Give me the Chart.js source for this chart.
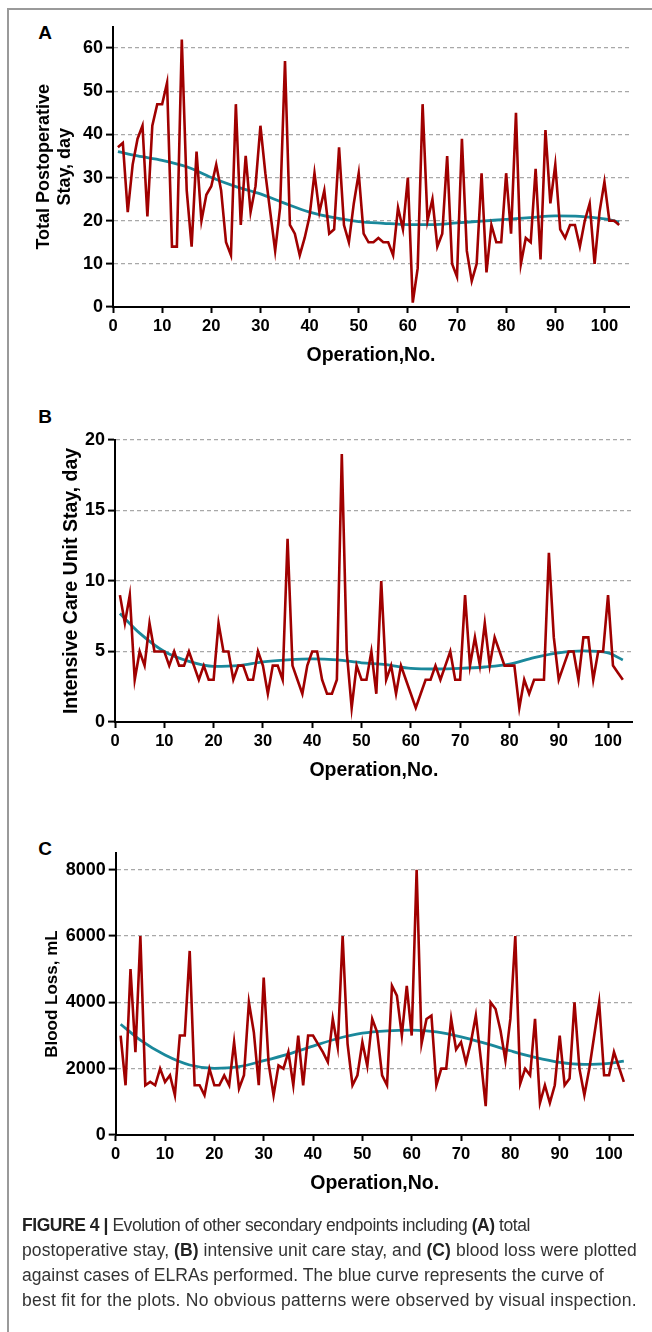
<!DOCTYPE html>
<html>
<head>
<meta charset="utf-8">
<script src="https://cdn.jsdelivr.net/npm/chart.js@4.4.0/dist/chart.umd.min.js"></script>
<style>
  body { margin: 0; width: 652px; height: 1332px; position: relative; background: #fff; overflow: hidden; }
  .frame { position: absolute; left: 7px; top: 8px; right: -4px; bottom: -4px; border-left: 2px solid #9a9a9a; border-top: 2px solid #9a9a9a; }
  canvas { position: absolute; left: 0; }
  .letter { position: absolute; font: bold 19px "Liberation Sans", Arial, sans-serif; color: #000; line-height: 20px; transform: translate(-50%, -50%); }
  .caption { position: absolute; left: 22px; top: 1213px; font: 17.5px "Liberation Sans", Arial, sans-serif; line-height: 25px; color: #333; white-space: nowrap; }
  .caption div { height: 25px; }
  .caption b { color: #222; }
</style>
</head>
<body>
<div class="frame"></div>
<div class="letter" style="left:45px; top:33px">A</div>
<div class="letter" style="left:45px; top:417px">B</div>
<div class="letter" style="left:45px; top:849px">C</div>
<canvas id="chartA" width="652" height="400" style="top:0"></canvas>
<canvas id="chartB" width="652" height="400" style="top:400px"></canvas>
<canvas id="chartC" width="652" height="420" style="top:800px"></canvas>
<div class="caption">
  <div style="letter-spacing:-0.45px"><b>FIGURE 4 |</b> Evolution of other secondary endpoints including <b>(A)</b> total</div>
  <div style="letter-spacing:0.08px">postoperative stay, <b>(B)</b> intensive unit care stay, and <b>(C)</b> blood loss were plotted</div>
  <div style="letter-spacing:0.03px">against cases of ELRAs performed. The blue curve represents the curve of</div>
  <div style="letter-spacing:0.26px">best fit for the plots. No obvious patterns were observed by visual inspection.</div>
</div>

<script>
// operation numbers 1..103
const operations = Array.from({length: 103}, (_, i) => i + 1);

// A: total postoperative stay (days)
const postopStay = [
  37, 38, 22, 33, 39, 42, 21, 42, 47, 47,
  52, 14, 14, 62, 27, 14, 36, 20, 26, 28,
  33, 27, 15, 12, 47, 19, 35, 22, 28, 42,
  31, 22, 13, 23, 57, 19, 17, 12, 16, 21,
  31, 22, 27, 17, 18, 37, 19, 15, 24, 31,
  17, 15, 15, 16, 15, 15, 12, 23, 18, 30,
  1, 9, 47, 20, 25, 14, 17, 35, 10, 7,
  39, 13, 6, 10, 31, 8, 19, 15, 15, 31,
  17, 45, 10, 16, 15, 32, 11, 41, 24, 33,
  18, 16, 19, 19, 14, 20, 24, 10, 22, 29,
  20, 20, 19
];

// B: intensive care unit stay (days)
const icuStay = [
  9, 7, 9, 3, 5, 4, 7, 5, 5, 5,
  4, 5, 4, 4, 5, 4, 3, 4, 3, 3,
  7, 5, 5, 3, 4, 4, 3, 3, 5, 4,
  2, 4, 4, 3, 13, 4, 3, 2, 4, 5,
  5, 3, 2, 2, 3, 19, 5, 1, 4, 3,
  3, 5, 2, 10, 3, 4, 2, 4, 3, 2,
  1, 2, 3, 3, 4, 3, 4, 5, 3, 3,
  9, 4, 6, 4, 7, 4, 6, 5, 4, 4,
  4, 1, 3, 2, 3, 3, 3, 12, 6, 3,
  4, 5, 5, 3, 6, 6, 3, 5, 5, 9,
  4, 3.5, 3
];

// C: blood loss (mL)
const bloodLoss = [
  3000, 1500, 5000, 2500, 6000, 1500, 1600, 1500, 2000, 1600,
  1800, 1200, 3000, 3000, 5550, 1500, 1500, 1200, 2000, 1500,
  1500, 1800, 1500, 2800, 1400, 1800, 4000, 3100, 1500, 4750,
  2150, 1200, 2100, 2000, 2500, 1500, 3000, 1500, 3000, 3000,
  2750, 2500, 2200, 3500, 2650, 6000, 2750, 1500, 1800, 2800,
  2080, 3500, 3100, 1800, 1500, 4500, 4200, 3000, 4500, 3000,
  8000, 2760, 3500, 3600, 1500, 2000, 2000, 3500, 2580, 2800,
  2180, 2800, 3600, 2300, 870, 4000, 3800, 3150, 2250, 3500,
  6000, 1550, 2000, 1800, 3500, 970, 1500, 970, 1500, 3000,
  1500, 1700, 4000, 2000, 1200, 2000, 3000, 4000, 1800, 1800,
  2500, 2050, 1600
];

// best-fit curves, read at a few operation numbers
const fitOps = [1, 5, 10, 15, 20, 25, 30, 35, 40, 45, 50, 55, 60, 65, 70, 75, 80, 85, 90, 95, 100, 103];
const postopFit = [36, 35, 34, 32.5, 30, 27.9, 26.2, 24, 22, 20.7, 19.8, 19.4, 19.1, 19.1, 19.5, 19.9, 20.3, 20.7, 21.1, 21, 20.4, 19.7];
const icuFit = [7.7, 6.3, 5.0, 4.3, 3.95, 4.0, 4.26, 4.4, 4.47, 4.4, 4.2, 4.07, 3.8, 3.76, 3.8, 3.9, 4.1, 4.57, 4.9, 5.04, 4.9, 4.4];
const bloodFit = [3340, 2860, 2410, 2110, 2010, 2060, 2240, 2440, 2680, 2910, 3070, 3140, 3160, 3110, 2960, 2760, 2540, 2340, 2190, 2130, 2160, 2230];

const xTicks = [0, 10, 20, 30, 40, 50, 60, 70, 80, 90, 100];

const FONT = '"Liberation Sans", Arial, sans-serif';
const RED = '#a00000';
const TEAL = '#1a889b';

function toPoints(xs, ys) {
  return xs.map((x, i) => ({x: x, y: ys[i]}));
}

function makePanel(id, p) {
  const ctx = document.getElementById(id).getContext('2d');
  return new Chart(ctx, {
    type: 'line',
    data: {
      datasets: [{
        data: toPoints(operations, p.values),
        borderColor: RED,
        borderWidth: 2.6,
        pointRadius: 0,
        tension: 0,
        borderJoinStyle: 'miter'
      }, {
        data: toPoints(fitOps, p.fit),
        borderColor: TEAL,
        borderWidth: 2.8,
        pointRadius: 0,
        cubicInterpolationMode: 'monotone'
      }]
    },
    options: {
      responsive: false,
      animation: false,
      devicePixelRatio: 1,
      layout: { padding: p.padding },
      plugins: { legend: { display: false }, tooltip: { enabled: false } },
      scales: {
        x: {
          type: 'linear',
          min: 0, max: 105,
          afterBuildTicks: s => { s.ticks = xTicks.map(v => ({value: v})); },
          afterFit: s => { s.height = 70; },
          ticks: { color: '#000', font: { family: FONT, size: 16.5, weight: 'bold' }, padding: 4, maxRotation: 0, autoSkip: false },
          grid: { drawOnChartArea: false, drawTicks: true, tickLength: 6, tickWidth: 2, tickColor: '#000' },
          border: { color: '#000', width: 2 },
          title: { display: true, text: 'Operation,No.', color: '#000', font: { family: FONT, size: 19.5, weight: 'bold' }, padding: { top: 0, bottom: 10 } }
        },
        y: {
          min: 0, max: p.yMax,
          afterBuildTicks: s => { s.ticks = p.yTicks.map(v => ({value: v})); },
          afterFit: s => { s.width = p.axisLeft; },
          ticks: { color: '#000', font: { family: FONT, size: 18, weight: 'bold' }, padding: 3, callback: v => String(v) },
          grid: {
            color: c => (c.tick && c.tick.value === 0) ? 'rgba(0,0,0,0)' : '#a8a8a8',
            lineWidth: 1.2, tickLength: 7, tickWidth: 2, tickColor: '#000'
          },
          border: { color: '#000', width: 2, dash: [4, 3] },
          title: { display: true, text: p.title, color: '#000', font: { family: FONT, size: p.titleSize, weight: 'bold', lineHeight: 1.2 }, padding: { top: p.titlePad, bottom: 0 } }
        }
      }
    }
  });
}

makePanel('chartA', {
  values: postopStay, fit: postopFit,
  yMax: 65, yTicks: [0, 10, 20, 30, 40, 50, 60],
  title: ['Total Postoperative', 'Stay, day'], titleSize: 18, titlePad: 33,
  axisLeft: 113,
  padding: { top: 26.5, left: 0, right: 23, bottom: 23 }
});

makePanel('chartB', {
  values: icuStay, fit: icuFit,
  yMax: 20, yTicks: [0, 5, 10, 15, 20],
  title: 'Intensive Care Unit Stay, day', titleSize: 19.5, titlePad: 60,
  axisLeft: 115,
  padding: { top: 40, left: 0, right: 19.3, bottom: 8 }
});

makePanel('chartC', {
  values: bloodLoss, fit: bloodFit,
  yMax: 8500, yTicks: [0, 2000, 4000, 6000, 8000],
  title: 'Blood Loss, mL', titleSize: 17, titlePad: 42,
  axisLeft: 115.7,
  padding: { top: 53.1, left: 0, right: 18.3, bottom: 15 }
});
</script>
</body>
</html>
